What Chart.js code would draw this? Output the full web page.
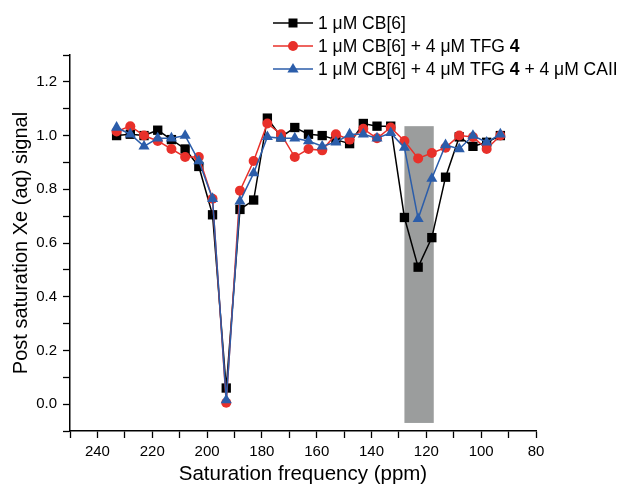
<!DOCTYPE html>
<html>
<head>
<meta charset="utf-8">
<script src="https://cdn.jsdelivr.net/npm/chart.js@4/dist/chart.umd.min.js"></script>
<style>
  html, body { margin: 0; padding: 0; background: #fff; }
  canvas { display: block; }
</style>
</head>
<body>
<canvas id="chart" width="622" height="490"></canvas>
<script>
// Saturation frequencies (ppm) of the offset sweep.
const frequencies = [233, 228, 223, 218, 213, 208, 203, 198, 193, 188, 183, 178, 173, 168, 163,
  158, 153, 148, 143, 138, 133, 128, 123, 118, 113, 108, 103, 98, 93];

// Normalised Xe (aq) signal after saturation.
const cb6 = [1.00, 1.005, 1.00, 1.02, 0.985, 0.95, 0.885, 0.705, 0.06, 0.725, 0.76, 1.065, 0.995, 1.03, 1.005,
  1.00, 0.985, 0.97, 1.045, 1.035, 1.035, 0.695, 0.51, 0.62, 0.845, 0.995, 0.96, 0.975, 1.00];
const cb6Tfg = [1.015, 1.035, 1.00, 0.98, 0.95, 0.92, 0.92, 0.765, 0.005, 0.795, 0.905, 1.045, 1.005, 0.92, 0.95,
  0.945, 1.005, 0.985, 1.025, 0.99, 1.03, 0.98, 0.915, 0.935, 0.955, 1.00, 0.995, 0.95, 1.00];
const cb6TfgCaii = [1.03, 1.005, 0.96, 0.99, 0.99, 1.00, 0.905, 0.765, 0.015, 0.755, 0.86, 0.995, 0.99, 0.99, 0.98,
  0.96, 0.975, 1.005, 1.005, 0.99, 1.01, 0.955, 0.69, 0.84, 0.965, 0.95, 1.00, 0.975, 1.005];

// Shaded region marking the bound-Xe resonance.
const bandPpm = [128, 117.3];
const bandSignal = [-0.07, 1.035];

const xRange = [80, 250];
const yRange = [-0.1, 1.3];

const BLACK = "#000000";
const RED = "#e8302a";
const BLUE = "#2b5daa";
const fontStack = "'Liberation Sans', Arial, sans-serif";

function toPoints(values) {
  return values.map((v, i) => ({ x: frequencies[i], y: v }));
}

// grey band, drawn under the lines
const bandPlugin = {
  id: "band",
  beforeDatasetsDraw(chart) {
    const { ctx, scales: { x, y } } = chart;
    const x0 = x.getPixelForValue(bandPpm[0]);
    const x1 = x.getPixelForValue(bandPpm[1]);
    const y0 = y.getPixelForValue(bandSignal[1]);
    const y1 = y.getPixelForValue(bandSignal[0]);
    ctx.save();
    ctx.fillStyle = "#9b9d9d";
    ctx.fillRect(Math.min(x0, x1), y0, Math.abs(x1 - x0), y1 - y0);
    ctx.restore();
  },
};

// Legend entries; the compound number "4" is set in bold.
const legendRows = [
  { color: BLACK, shape: "rect", parts: [["1 \u03bcM CB[6]", false]] },
  { color: RED, shape: "circle", parts: [["1 \u03bcM CB[6] + 4 \u03bcM TFG ", false], ["4", true]] },
  { color: BLUE, shape: "triangle", parts: [["1 \u03bcM CB[6] + 4 \u03bcM TFG ", false], ["4", true], [" + 4 \u03bcM CAII", false]] },
];

function marker(ctx, shape, cx, cy) {
  ctx.beginPath();
  if (shape === "rect") {
    ctx.rect(cx - 4.5, cy - 4.5, 9, 9);
  } else if (shape === "circle") {
    ctx.arc(cx, cy, 5, 0, Math.PI * 2);
  } else {
    ctx.moveTo(cx, cy - 6);
    ctx.lineTo(cx + 5.6, cy + 3.6);
    ctx.lineTo(cx - 5.6, cy + 3.6);
    ctx.closePath();
  }
  ctx.fill();
}

const legendPlugin = {
  id: "sideLegend",
  afterDraw(chart) {
    const ctx = chart.ctx;
    ctx.save();
    ctx.textBaseline = "middle";
    legendRows.forEach((row, i) => {
      const cy = 23 + i * 23;
      ctx.strokeStyle = row.color;
      ctx.fillStyle = row.color;
      ctx.lineWidth = 1.5;
      ctx.beginPath();
      ctx.moveTo(273, cy);
      ctx.lineTo(313, cy);
      ctx.stroke();
      marker(ctx, row.shape, 293, cy);
      let tx = 318;
      ctx.fillStyle = "#000";
      row.parts.forEach(([text, bold]) => {
        ctx.font = (bold ? "bold " : "") + "17.5px " + fontStack;
        ctx.fillText(text, tx, cy + 1);
        tx += ctx.measureText(text).width;
      });
    });
    ctx.restore();
  },
};

const series = (label, values, color, pointStyle, radius, order) => ({
  label,
  data: toPoints(values),
  borderColor: color,
  backgroundColor: color,
  pointBackgroundColor: color,
  pointBorderColor: color,
  pointBorderWidth: 0,
  pointStyle,
  pointRadius: radius,
  borderWidth: 1.5,
  tension: 0,
  order,
});

new Chart(document.getElementById("chart"), {
  type: "line",
  data: {
    datasets: [
      series("1 \u03bcM CB[6]", cb6, BLACK, "rect", 6.6, 2),
      series("1 \u03bcM CB[6] + 4 \u03bcM TFG 4", cb6Tfg, RED, "circle", 5, 1),
      series("1 \u03bcM CB[6] + 4 \u03bcM TFG 4 + 4 \u03bcM CAII", cb6TfgCaii, BLUE, "triangle", 6.4, 0),
    ],
  },
  options: {
    responsive: false,
    animation: false,
    layout: { padding: { top: 55, right: 86, left: 0, bottom: 0 } },
    plugins: {
      legend: { display: false },
      tooltip: { enabled: false },
    },
    scales: {
      x: {
        type: "linear",
        reverse: true,
        min: xRange[0],
        max: xRange[1],
        afterFit(scale) { scale.height = 59; },
        ticks: {
          stepSize: 10,
          autoSkip: false,
          maxRotation: 0,
          padding: 5,
          color: "#000",
          font: { family: fontStack, size: 15 },
          callback: (v) => (v % 20 === 0 ? String(v) : ""),
        },
        grid: { drawOnChartArea: false, tickLength: 7, tickColor: "#000", tickWidth: 1.3 },
        border: { color: "#000", width: 1.5 },
        title: {
          display: true,
          text: "Saturation frequency (ppm)",
          color: "#000",
          font: { family: fontStack, size: 20.5 },
          padding: { top: 0, bottom: 3 },
        },
      },
      y: {
        min: yRange[0],
        max: yRange[1],
        afterFit(scale) { scale.width = 70; },
        ticks: {
          stepSize: 0.1,
          padding: 6,
          color: "#000",
          font: { family: fontStack, size: 15 },
          callback: (v) => {
            const k = Math.round(v * 10);
            return k % 2 === 0 && k >= 0 && k <= 12 ? (k / 10).toFixed(1) : "";
          },
        },
        grid: { drawOnChartArea: false, tickLength: 7, tickColor: "#000", tickWidth: 1.3 },
        border: { color: "#000", width: 1.5 },
        title: {
          display: true,
          text: "Post saturation Xe (aq) signal",
          color: "#000",
          font: { family: fontStack, size: 20 },
          padding: { top: 9, bottom: 0 },
        },
      },
    },
  },
  plugins: [bandPlugin, legendPlugin],
});
</script>
</body>
</html>
